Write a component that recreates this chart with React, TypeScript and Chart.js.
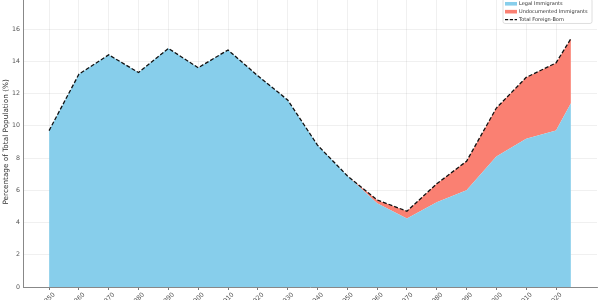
import React, { useEffect, useRef } from "react";
import { Chart, registerables } from "chart.js";

Chart.register(...registerables);

const YEARS = [1850, 1860, 1870, 1880, 1890, 1900, 1910, 1920, 1930, 1940, 1950, 1960, 1970, 1980, 1990, 2000, 2010, 2020, 2025];
const LEGAL = [9.7, 13.2, 14.4, 13.3, 14.8, 13.6, 14.7, 13.1, 11.6, 8.8, 6.9, 5.2, 4.25, 5.25, 6.0, 8.1, 9.2, 9.7, 11.4];
const UNDOCUMENTED = [0, 0, 0, 0, 0, 0, 0, 0, 0, 0, 0, 0.2, 0.45, 1.15, 1.8, 3.0, 3.8, 4.2, 4.0];
const TOTAL = [9.7, 13.2, 14.4, 13.3, 14.8, 13.6, 14.7, 13.1, 11.6, 8.8, 6.9, 5.4, 4.7, 6.4, 7.8, 11.1, 13.0, 13.9, 15.4];

const X_TICKS = [1850, 1860, 1870, 1880, 1890, 1900, 1910, 1920, 1930, 1940, 1950, 1960, 1970, 1980, 1990, 2000, 2010, 2020];
const Y_TICKS = [0, 2, 4, 6, 8, 10, 12, 14, 16];

const LABEL_LEGAL = "Legal Immigrants";
const LABEL_UNDOC = "Undocumented Immigrants";
const LABEL_TOTAL = "Total Foreign-Born";
const Y_TITLE = "Percentage of Total Population (%)";

const FONT = "'DejaVu Sans', sans-serif";
const BLUE = "#87CEEB";
const SALMON = "#FA8072";

const pts = (vals: number[]) => YEARS.map((x, i) => ({ x, y: vals[i] }));

const legendPlugin = {
  id: "boxLegend",
  afterDraw(chart: any) {
    const { ctx, chartArea } = chart;
    const right = chartArea.right - 5;
    const width = 89;
    const left = right - width;
    const top = chartArea.top + 2;
    const height = 24.7;
    ctx.save();
    ctx.fillStyle = "rgba(255,255,255,0.85)";
    ctx.strokeStyle = "#d6d6d6";
    ctx.lineWidth = 0.8;
    ctx.beginPath();
    (ctx as any).roundRect(left, top, width, height, 2);
    ctx.fill();
    ctx.stroke();
    const order = [1, 2, 0];
    ctx.font = `5px ${FONT}`;
    ctx.textBaseline = "middle";
    ctx.textAlign = "left";
    order.forEach((di, row) => {
      const ds = chart.data.datasets[di];
      const cy = chartArea.top + 7 + row * 7.9;
      const px = left + 2;
      const pw = 12;
      if (ds.fill) {
        ctx.fillStyle = ds.backgroundColor;
        ctx.fillRect(px, cy - 1.8, pw, 3.6);
      } else {
        ctx.strokeStyle = ds.borderColor;
        ctx.lineWidth = 1.3;
        ctx.setLineDash([3.2, 1.6]);
        ctx.beginPath();
        ctx.moveTo(px, cy);
        ctx.lineTo(px + pw, cy);
        ctx.stroke();
        ctx.setLineDash([]);
      }
      ctx.fillStyle = "#333";
      ctx.fillText(ds.label, left + 16, cy);
    });
    ctx.restore();
  },
};

export default function App() {
  const ref = useRef<HTMLCanvasElement>(null);
  useEffect(() => {
    if (!ref.current) return;
    const chart = new Chart(ref.current, {
      type: "line",
      data: {
        datasets: [
          {
            label: LABEL_TOTAL,
            data: pts(TOTAL),
            borderColor: "#111",
            borderWidth: 1.3,
            borderDash: [4, 2],
            pointRadius: 0,
            fill: false,
            stack: "total",
            tension: 0,
          },
          {
            label: LABEL_LEGAL,
            data: pts(LEGAL),
            backgroundColor: BLUE,
            borderColor: BLUE,
            borderWidth: 0,
            pointRadius: 0,
            fill: "origin",
            stack: "parts",
            tension: 0,
          },
          {
            label: LABEL_UNDOC,
            data: pts(UNDOCUMENTED),
            backgroundColor: SALMON,
            borderColor: SALMON,
            borderWidth: 0,
            pointRadius: 0,
            fill: "-1",
            stack: "parts",
            tension: 0,
          },
        ],
      },
      options: {
        animation: false,
        responsive: false,
        maintainAspectRatio: false,
        layout: { padding: { top: 6.3, right: 3, left: 0, bottom: 0 } },
        plugins: { legend: { display: false }, tooltip: { enabled: false } },
        scales: {
          x: {
            type: "linear",
            min: 1841.25,
            max: 2033.75,
            afterBuildTicks: (s: any) => {
              s.ticks = X_TICKS.map((v) => ({ value: v }));
            },
            afterFit: (s: any) => {
              s.height = 43;
            },
            grid: { color: "rgba(0,0,0,0.08)", lineWidth: 0.8, tickLength: 3, tickColor: "#555" },
            border: { color: "#888", width: 1 },
            ticks: {
              autoSkip: false,
              maxRotation: 45,
              minRotation: 45,
              padding: 1,
              labelOffset: 5,
              font: { family: FONT, size: 6.3 },
              color: "#555",
              callback: (v: any) => String(v),
            },
          },
          y: {
            stacked: true,
            min: 0,
            max: 18,
            afterBuildTicks: (s: any) => {
              s.ticks = Y_TICKS.map((v) => ({ value: v }));
            },
            afterFit: (s: any) => {
              s.width = 23;
            },
            grid: { color: "rgba(0,0,0,0.08)", lineWidth: 0.8, drawTicks: false },
            border: { color: "#888", width: 1 },
            ticks: {
              padding: 3,
              font: { family: FONT, size: 6.3 },
              color: "#555",
            },
            title: {
              display: true,
              text: Y_TITLE,
              font: { family: FONT, size: 7.3 },
              color: "#333",
              padding: { top: 2, bottom: 0 },
            },
          },
        },
      },
      plugins: [legendPlugin],
    });
    return () => chart.destroy();
  }, []);
  return (
    <div style={{ position: "fixed", left: 0, top: 0, width: 600, height: 300, overflow: "hidden", background: "#fff" }}>
      <canvas ref={ref} width={600} height={340} style={{ position: "absolute", left: 0, top: -10, width: 600, height: 340 }} />
    </div>
  );
}
